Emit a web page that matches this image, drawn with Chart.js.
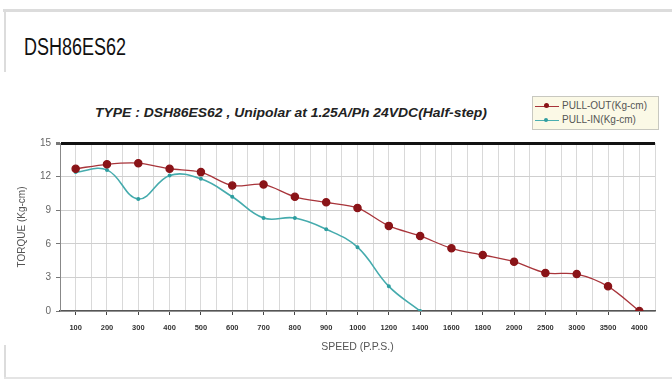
<!DOCTYPE html>
<html>
<head>
<meta charset="utf-8">
<script src="https://cdn.jsdelivr.net/npm/chart.js@4"></script>
<style>
  html, body { margin: 0; padding: 0; background: #fff; }
  body { width: 672px; height: 380px; position: relative; overflow: hidden; font-family: "Liberation Sans", Arial, sans-serif; }
  .frame-top { position: absolute; left: 3px; top: 9px; width: 669px; height: 3px; background: #dcdcdc; }
  .frame-left { position: absolute; left: 4px; top: 10px; width: 2px; height: 62px; background: #dcdcdc; }
  .frame-left2 { position: absolute; left: 4px; top: 345px; width: 2px; height: 34px; background: #dcdcdc; }
  .frame-bottom { position: absolute; left: 4px; top: 377px; width: 668px; height: 2px; background: #e4e4e4; }
  .heading { position: absolute; left: 24px; top: 33px; font-size: 18px; color: #111; transform: scaleY(1.35); transform-origin: left top; }
  .ctitle { position: absolute; left: 95px; top: 104px; font-size: 13px; font-weight: bold; font-style: italic; color: #222; transform: scale(1.07, 1.05); transform-origin: left top; white-space: nowrap; }
  .legend { position: absolute; left: 532px; top: 96px; width: 125px; height: 32px; background: #fbf9e6; border: 1px solid #c8c8c0; font-size: 10px; color: #555; }
  .legend div { position: absolute; left: 2px; height: 13px; line-height: 13px; white-space: nowrap; }
  .legend i { display: inline-block; position: relative; width: 24px; height: 1px; vertical-align: middle; margin-right: 3px; }
  .legend i b { position: absolute; left: 9px; top: -2.5px; width: 5px; height: 5px; border-radius: 50%; }
  canvas { position: absolute; left: 0; top: 0; }
</style>
</head>
<body>
<div class="frame-top"></div>
<div class="frame-left"></div>
<div class="frame-left2"></div>
<div class="frame-bottom"></div>
<div class="heading">DSH86ES62</div>
<div class="ctitle">TYPE : DSH86ES62 , Unipolar at 1.25A/Ph 24VDC(Half-step)</div>
<div class="legend">
  <div style="top:2px"><i style="background:#a8343a"><b style="background:#8a1418"></b></i>PULL-OUT(Kg-cm)</div>
  <div style="top:16px"><i style="background:#4aaeb0"><b style="background:#2f9ea0;width:4px;height:4px;top:-1.5px"></b></i>PULL-IN(Kg-cm)</div>
</div>
<canvas id="chart" width="672" height="380"></canvas>
<script>
const speedLabels = ['100', '200', '300', '400', '500', '600', '700', '800', '900', '1000',
  '1200', '1400', '1600', '1800', '2000', '2500', '3000', '3500', '4000'];
const pullOut = [12.7, 13.1, 13.2, 12.7, 12.4, 11.2, 11.3, 10.2, 9.7, 9.2,
  7.6, 6.7, 5.6, 5.0, 4.4, 3.4, 3.3, 2.2, 0];
const pullIn = [12.4, 12.6, 10.0, 12.1, 11.8, 10.2, 8.3, 8.3, 7.3, 5.7,
  2.2, 0, null, null, null, null, null, null, null];
const torqueTicks = [0, 3, 6, 9, 12, 15];

const toPoints = arr => arr.map((v, i) => ({ x: i, y: v }));
const isCat = v => Math.abs(v - Math.round(v)) < 1e-6 && v >= 0 && v < speedLabels.length;

new Chart(document.getElementById('chart'), {
  type: 'line',
  data: {
    datasets: [
      {
        label: 'PULL-OUT(Kg-cm)',
        data: toPoints(pullOut),
        borderColor: '#a8343a',
        borderWidth: 1.3,
        pointRadius: 3.6,
        pointBackgroundColor: '#8a1418',
        pointBorderColor: '#8a1418',
        tension: 0.3,
      },
      {
        label: 'PULL-IN(Kg-cm)',
        data: toPoints(pullIn),
        borderColor: '#45abad',
        borderWidth: 1.6,
        pointRadius: 1.2,
        pointBackgroundColor: '#2f9ea0',
        pointBorderColor: '#2f9ea0',
        tension: 0.4,
        spanGaps: false,
      },
    ],
  },
  options: {
    responsive: false,
    animation: false,
    layout: { padding: { left: 10, top: 143, right: 17, bottom: 27 } },
    plugins: { legend: { display: false }, tooltip: { enabled: false } },
    scales: {
      x: {
        type: 'linear',
        min: -0.5,
        max: speedLabels.length - 0.5,
        afterFit: s => { s.height = 42; },
        afterBuildTicks: s => {
          const t = [];
          for (let v = -0.5; v <= speedLabels.length - 0.5 + 1e-6; v += 0.5) t.push({ value: v });
          s.ticks = t;
        },
        grid: {
          color: '#d9d9d9',
          lineWidth: 1,
          tickLength: 4,
          tickColor: ctx => isCat(ctx.tick.value) ? '#444' : 'rgba(0,0,0,0)',
        },
        border: { color: '#555', width: 1.5 },
        ticks: {
          autoSkip: false,
          maxRotation: 0,
          padding: 8,
          color: '#333',
          font: { family: 'Liberation Sans', size: 7.5, weight: 'bold' },
          callback: v => isCat(v) ? speedLabels[Math.round(v)] : '',
        },
        title: {
          display: true,
          text: 'SPEED (P.P.S.)',
          color: '#555',
          font: { family: 'Liberation Sans', size: 10.5 },
          padding: { top: 1, bottom: 0 },
        },
      },
      y: {
        min: 0,
        max: 15,
        afterFit: s => { s.width = 50; },
        afterBuildTicks: s => { s.ticks = torqueTicks.map(v => ({ value: v })); },
        grid: {
          color: ctx => ctx.tick.value === 15 ? '#111' : '#cfcfcf',
          lineWidth: ctx => ctx.tick.value === 15 ? 3 : 1,
          tickLength: 4,
          tickColor: '#777',
        },
        border: { color: '#888', width: 1 },
        ticks: {
          padding: 5,
          color: '#666',
          font: { family: 'Liberation Sans', size: 10 },
        },
        title: {
          display: true,
          text: 'TORQUE (Kg-cm)',
          color: '#555',
          font: { family: 'Liberation Sans', size: 10 },
          padding: { top: 6, bottom: 0 },
        },
      },
    },
  },
});
</script>
</body>
</html>
